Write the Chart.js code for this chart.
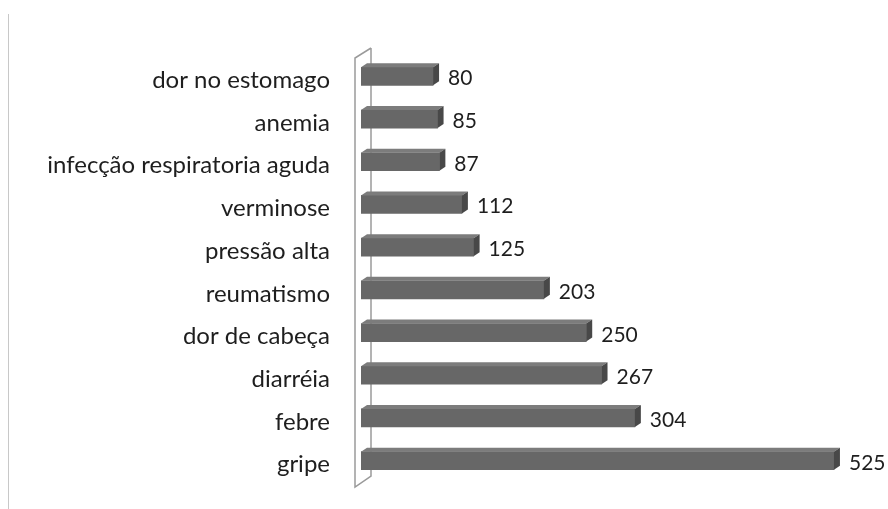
<!DOCTYPE html>
<html>
<head>
<meta charset="utf-8">
<script src="https://cdn.jsdelivr.net/npm/chart.js@4/dist/chart.umd.min.js"></script>
<style>
  html, body { margin: 0; padding: 0; background: #fff; }
  canvas { display: block; }
</style>
</head>
<body>
<canvas id="chart" width="888" height="509"></canvas>
<script>
// Categories read top to bottom, values as printed next to each bar.
const categories = [
  'dor no estomago',
  'anemia',
  'infecção respiratoria aguda',
  'verminose',
  'pressão alta',
  'reumatismo',
  'dor de cabeça',
  'diarréia',
  'febre',
  'gripe',
];
const counts = [80, 85, 87, 112, 125, 203, 250, 267, 304, 525];

const FONT = 'Lato, "Open Sans", sans-serif';
const FRONT = '#676767';
const TOP = '#7c7c7c';
const SIDE = '#484848';
const DEPTH_X = 6;
const DEPTH_Y = -4;

// Draws the slanted back wall, the page edge line, and fakes the 3D bar faces.
const fake3d = {
  id: 'fake3d',
  beforeDatasetsDraw(chart) {
    const { ctx, chartArea: a } = chart;
    ctx.save();
    ctx.strokeStyle = '#9a9a9a';
    ctx.lineWidth = 1.5;
    ctx.beginPath();
    ctx.moveTo(a.left + 10, a.top - 7);
    ctx.lineTo(a.left - 6, a.top + 3);
    ctx.lineTo(a.left - 6, a.bottom + 5);
    ctx.lineTo(a.left + 10, a.bottom - 6);
    ctx.lineTo(a.left + 10, a.top - 7);
    ctx.stroke();
    ctx.restore();
  },
  afterDatasetsDraw(chart) {
    const { ctx } = chart;
    const meta = chart.getDatasetMeta(0);
    ctx.save();
    meta.data.forEach((bar, i) => {
      const top = bar.y - bar.height / 2;
      const bottom = bar.y + bar.height / 2;
      const x0 = bar.base;
      const x1 = bar.x;
      // top face
      ctx.fillStyle = TOP;
      ctx.beginPath();
      ctx.moveTo(x0, top);
      ctx.lineTo(x0 + DEPTH_X, top + DEPTH_Y);
      ctx.lineTo(x1 + DEPTH_X, top + DEPTH_Y);
      ctx.lineTo(x1, top);
      ctx.closePath();
      ctx.fill();
      // right side face
      ctx.fillStyle = SIDE;
      ctx.beginPath();
      ctx.moveTo(x1, top);
      ctx.lineTo(x1 + DEPTH_X, top + DEPTH_Y);
      ctx.lineTo(x1 + DEPTH_X, bottom + DEPTH_Y);
      ctx.lineTo(x1, bottom);
      ctx.closePath();
      ctx.fill();
      // value label
      ctx.fillStyle = '#1e1e1e';
      ctx.font = `21px ${FONT}`;
      ctx.textAlign = 'left';
      ctx.textBaseline = 'alphabetic';
      ctx.fillText(String(counts[i]), x1 + DEPTH_X + 9, bar.y + 9);
    });
    ctx.restore();
  },
  afterDraw(chart) {
    const { ctx } = chart;
    ctx.save();
    ctx.strokeStyle = '#c8c8c8';
    ctx.lineWidth = 1;
    ctx.beginPath();
    ctx.moveTo(8.5, 14);
    ctx.lineTo(8.5, 509);
    ctx.stroke();
    ctx.restore();
  },
};

new Chart(document.getElementById('chart'), {
  type: 'bar',
  data: {
    labels: categories,
    datasets: [{
      data: counts,
      backgroundColor: FRONT,
      borderWidth: 0,
      barThickness: 18,
    }],
  },
  options: {
    indexAxis: 'y',
    responsive: false,
    animation: false,
    layout: { autoPadding: false, padding: { top: 55, bottom: 27, left: 0, right: 0 } },
    scales: {
      x: {
        display: false,
        min: 0,
        max: 585,
      },
      y: {
        grid: { display: false, drawTicks: false },
        border: { display: false },
        ticks: {
          padding: 31,
          labelOffset: 4,
          color: '#1e1e1e',
          font: { family: FONT, size: 24 },
        },
        // the tick padding would otherwise also pad the axis ends
        afterFit(scale) {
          scale.width = 361;
          scale.paddingTop = 0;
          scale.paddingBottom = 0;
        },
      },
    },
    plugins: {
      legend: { display: false },
      tooltip: { enabled: false },
    },
  },
  plugins: [fake3d],
});
</script>
</body>
</html>
